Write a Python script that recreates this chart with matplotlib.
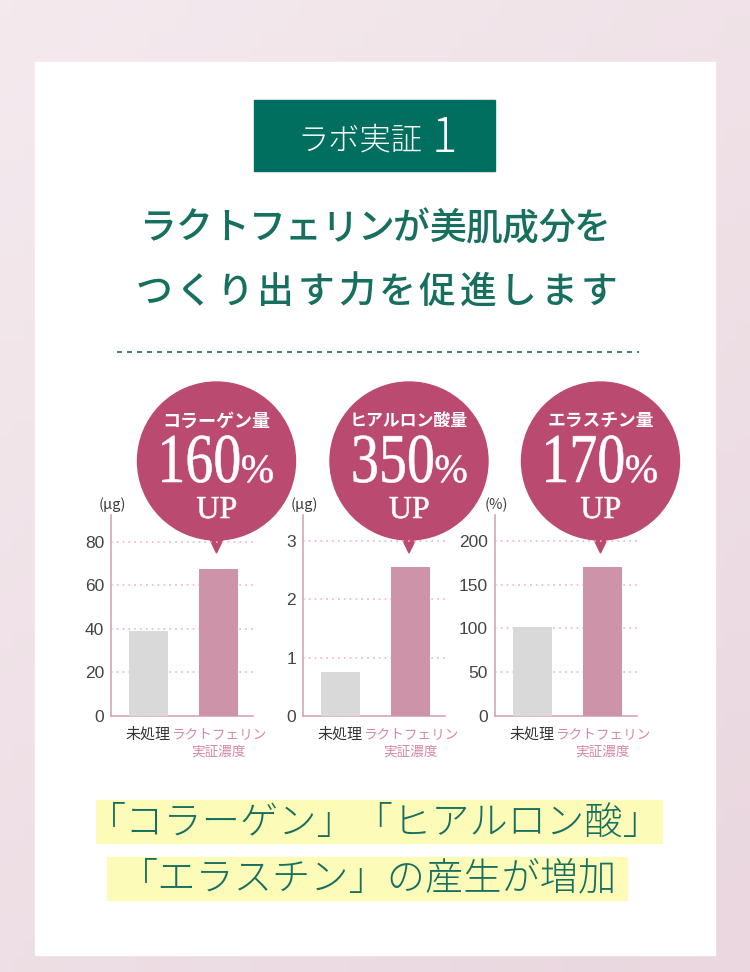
import numpy as np
import matplotlib
matplotlib.use("Agg")
import matplotlib.pyplot as plt
from matplotlib.patches import Rectangle, Circle, Polygon, PathPatch
from matplotlib.textpath import TextPath
from matplotlib.font_manager import FontProperties
from matplotlib.transforms import Affine2D, ScaledTranslation
from matplotlib.colors import LinearSegmentedColormap

plt.rcParams['font.family'] = ['Noto Sans CJK JP', 'DejaVu Sans']

# ---- data ----
categories = ["未処理", "ラクトフェリン\n実証濃度"]
collagen = [39, 67.5]
hyaluronic = [0.75, 2.55]
elastin = [101, 170]
series = [collagen, hyaluronic, elastin]
yticks = [[0, 20, 40, 60, 80], [0, 1, 2, 3], [0, 50, 100, 150, 200]]
ytops = [92.3, 3.45, 229.8]
units = ["(μg)", "(μg)", "(%)"]
bubble_names = ["コラーゲン量", "ヒアルロン酸量", "エラスチン量"]
bubble_pcts = ["160", "350", "170"]
bubble_name_sizes = [13, 12.2, 12.8]

title_lines = ["ラクトフェリンが美肌成分を", "つくり出す力を促進します"]
summary_lines = ["「コラーゲン」「ヒアルロン酸」", "「エラスチン」の産生が増加"]

GREEN = "#006f60"
TITLE_GREEN = "#17705f"
BUBBLE = "#bb4a70"
PINK_BAR = "#cd93a8"
GRAY_BAR = "#d9d9d9"
SPINE = "#d6a5b7"
GRID = "#efb3c5"
W, H = 750, 972

fig = plt.figure(figsize=(W / 100, H / 100), dpi=100)
bg = fig.add_axes([0, 0, 1, 1])
bg.set_xlim(0, W)
bg.set_ylim(H, 0)
bg.axis("off")

# soft pink background
gx, gy = np.meshgrid(np.linspace(0, 1, 60), np.linspace(0, 1, 60))
grad = gx * 0.4 + gy * 0.6
cmap = LinearSegmentedColormap.from_list("bgpink", ["#f4eaee", "#ead7df"])
bg.imshow(grad, cmap=cmap, extent=(0, W, H, 0), aspect="auto", zorder=0)

# white panel
bg.add_patch(Rectangle((35, 62), 680, 893, color="white", zorder=1))

# header box
bg.add_patch(Rectangle((254, 100), 241, 71, color=GREEN, zorder=2))
bg.text(360, 140, "ラボ実証", color="white", fontsize=22.5, weight="light",
        ha="center", va="center", zorder=3)
bg.text(444, 152, "1", color="white", fontsize=34, weight="light",
        ha="center", va="baseline", zorder=3)


def spaced_text(x_center, y, s, pitch, **kw):
    n = len(s)
    for i, ch in enumerate(s):
        bg.text(x_center + (i - (n - 1) / 2) * pitch, y, ch,
                ha="center", va="center", zorder=3, **kw)


spaced_text(375.5, 228, title_lines[0], 36.2, fontsize=26.5,
            color=TITLE_GREEN, weight="medium")
spaced_text(376.5, 292, title_lines[1], 40.5, fontsize=26.5,
            color=TITLE_GREEN, weight="medium")

bg.plot([117, 639], [352, 352], color=TITLE_GREEN, lw=1.2,
        linestyle=(0, (3, 3)), zorder=3)

# ---- bar charts ----
lefts = [111, 303, 495]
ax_w, ax_top, ax_bot = 142, 515, 715.7
for i, vals in enumerate(series):
    ax = fig.add_axes([lefts[i] / W, (H - ax_bot) / H, ax_w / W,
                       (ax_bot - ax_top) / H])
    ax.patch.set_alpha(0)
    ax.bar([0, 1], vals, width=0.55, color=[GRAY_BAR, PINK_BAR], zorder=3)
    ax.set_xlim(-0.53, 1.49)
    ax.set_ylim(0, ytops[i])
    ax.set_yticks(yticks[i])
    ax.set_yticklabels([str(t) for t in yticks[i]], family="Liberation Sans",
                       fontsize=12.5, color="#444444")
    ax.set_xticks([0, 1])
    ax.set_xticklabels(categories, linespacing=1.3)
    lab0, lab1 = ax.get_xticklabels()
    lab0.set_color("#333333")
    lab0.set_fontsize(10.8)
    lab1.set_color("#d48aa6")
    lab1.set_fontsize(9.8)
    lab1.set_transform(lab1.get_transform() +
                       ScaledTranslation(3 / 100, 0, fig.dpi_scale_trans))
    ax.tick_params(length=0)
    ax.tick_params(axis="y", pad=5)
    ax.tick_params(axis="x", pad=8.5)
    for side in ["top", "right"]:
        ax.spines[side].set_visible(False)
    for side in ["left", "bottom"]:
        ax.spines[side].set_color(SPINE)
        ax.spines[side].set_linewidth(1.2)
    ax.grid(axis="y", color=GRID, linestyle=(0, (1, 2.5)), lw=1.2, zorder=1)
    bg.text(lefts[i] + 1, 505, units[i], fontsize=10.5, color="#404040",
            ha="center", va="center", zorder=3)

# ---- bubbles ----
serif = FontProperties(family="Liberation Serif")


def glyph_path(s):
    tp = TextPath((0, 0), s, size=1, prop=serif)
    bb = tp.get_extents()
    return tp, bb.x0, bb.x1


def put_path(tp, x0, y, sx, sy):
    tr = Affine2D().scale(sx, -sy).translate(x0, y)
    bg.add_patch(PathPatch(tr.transform_path(tp), facecolor="white",
                           edgecolor="white", lw=0.4, zorder=6))


centers = [216.5, 409, 600.5]
cy, r = 461, 79
for i, cx in enumerate(centers):
    bg.add_patch(Circle((cx, cy), r, color=BUBBLE, zorder=5))
    bg.add_patch(Polygon([(cx - 11, 530), (cx + 11, 530), (cx, 553)],
                         color=BUBBLE, zorder=5))
    bg.text(cx, 421, bubble_names[i], color="white", weight="bold",
            fontsize=bubble_name_sizes[i], ha="center", va="center", zorder=6)
    # big number + percent sign
    dsx, dsy = 56, 70
    psx, psy = 40, 40
    tp_d, d0, d1 = glyph_path(bubble_pcts[i])
    tp_p, p0, p1 = glyph_path("%")
    gap = 3
    wd, wp = (d1 - d0) * dsx, (p1 - p0) * psx
    left = cx + 1 - (wd + gap + wp) / 2
    put_path(tp_d, left - d0 * dsx, 482, dsx, dsy)
    put_path(tp_p, left + wd + gap - p0 * psx, 482, psx, psy)
    tp_u, u0, u1 = glyph_path("UP")
    put_path(tp_u, cx - (u0 + u1) / 2 * 32, 518, 32, 32)

# ---- summary ----
bg.add_patch(Rectangle((96, 800), 566, 43, color="#fdfbb8", zorder=2))
bg.add_patch(Rectangle((107, 857), 520, 43, color="#fdfbb8", zorder=2))
bg.text(375, 823, summary_lines[0], fontsize=27.5, weight="light",
        color=TITLE_GREEN, ha="center", va="center", zorder=3)
bg.text(369, 879, summary_lines[1], fontsize=27.5, weight="light",
        color=TITLE_GREEN, ha="center", va="center", zorder=3)

fig.savefig("out.png", dpi=100)
